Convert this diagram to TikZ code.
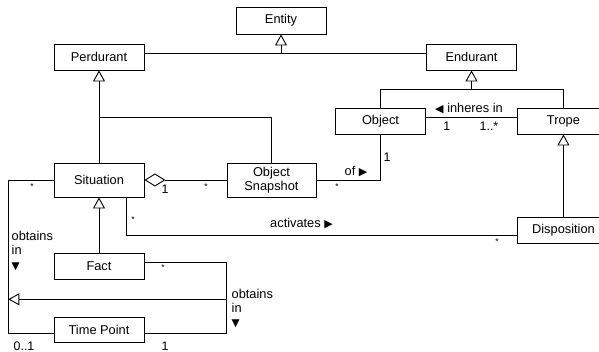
\documentclass[tikz,border=0pt]{standalone}
\usepackage{fontspec}
\setmainfont{Liberation Sans}
\newfontfamily\symfont{DejaVu Sans}
\usetikzlibrary{arrows.meta,calc}
\tikzset{
  cls/.style={draw, line width=0.9pt, fill=white, minimum width=90pt,
    minimum height=26pt, inner sep=1pt, align=center,
    font=\fontsize{12.8}{13.5}\selectfont},
  lnk/.style={line width=0.9pt},
  isa/.style={lnk, -{Triangle[open,length=11pt,width=12pt]}},
  lbl/.style={inner sep=0pt, font=\fontsize{12.8}{14.5}\selectfont},
  mult/.style={inner sep=0pt, font=\fontsize{12.4}{14}\selectfont},
  star/.style={inner sep=0pt, font=\fontsize{8.5}{8.5}\selectfont},
}
\newcommand{\rtri}{{\symfont\fontsize{11}{11}\selectfont ▶}}
\newcommand{\ltri}{{\symfont\fontsize{11}{11}\selectfont ◀}}
\newcommand{\dtri}{{\symfont\fontsize{10.5}{10.5}\selectfont ▼}}
\begin{document}
\begin{tikzpicture}[x=1pt,y=-1pt]
\useasboundingbox (0,0) rectangle (599,352);
\clip (0,0) rectangle (599,352);

% classes
\node[cls, minimum height=27pt] (entity) at (281,20.5) {Entity};
\node[cls] (perd) at (99,57) {Perdurant};
\node[cls] (endu) at (471.5,57) {Endurant};
\node[cls] (obj) at (380.5,121) {Object};
\node[cls, minimum width=92pt, anchor=west] (trope) at (517,121) {Trope};
\node[cls, minimum height=34pt] (sit) at (99,180) {Situation};
\node[cls, minimum height=34pt, minimum width=89pt] (snap) at (271.5,180) {Object\\Snapshot};
\node[cls, minimum width=92pt, anchor=west] (disp) at (517,230) {Disposition};
\node[cls] (fact) at (99,266) {Fact};
\node[cls, minimum height=25pt] (tp) at (99,329.5) {Time Point};

% junction points
\coordinate (gtop) at (281,53);
\coordinate (pj) at (99,117);
\coordinate (ej) at (471.5,89.3);
\coordinate (lx) at (8.3,0);
\coordinate (rx) at (226.7,0);
\coordinate (gr) at (226.7,299.3);
\coordinate (gl) at (8.3,299.3);
\coordinate (tpw) at ([yshift=-3.7pt]tp.west);
\coordinate (tpe) at ([yshift=-3.7pt]tp.east);
\coordinate (fe) at ([yshift=3.5pt]fact.east);

% generalisations
\draw[lnk] ([yshift=4pt]perd.east) -- ([yshift=4pt]endu.west);
\draw[isa] (gtop) -- (entity.south);
\draw[isa] (sit.north) -- (perd.south);
\draw[lnk] (snap.north) |- (pj);
\draw[isa] (ej) -- (endu.south);
\draw[lnk] (obj.north) |- (ej) -| (trope.north);
\draw[isa] (disp.north) -- (trope.south);
\draw[isa] (fact.north) -- (sit.south);

% associations
\draw[lnk] ([yshift=3.7pt]obj.east) -- ([yshift=3.7pt]trope.west);
\draw[lnk] (obj.south) |- (snap.east);
\draw[lnk, {Diamond[open,length=21pt,width=13pt]}-] (sit.east) -- (snap.west);
\draw[lnk] ([xshift=27.7pt]sit.south) |- ([yshift=-5pt]disp.west);
\draw[lnk] (sit.west) -| (lx |- tpw) -- (tpw);
\draw[lnk] (fe) -| (rx |- tpe) -- (tpe);
\draw[isa] (gr) -- (gl);

% association labels
\node[lbl] at (469,109) {\ltri\ inheres in};
\node[mult] at (446.7,126) {1};
\node[mult] at (489,126) {1..*};
\node[mult] at (387,157) {1};
\node[lbl] at (356,172) {of \rtri};
\node[star] at (337,187) {*};
\node[mult] at (165,189) {1};
\node[star] at (206,187) {*};
\node[star] at (32,187) {*};
\node[lbl, align=left, anchor=north west, font=\fontsize{12.8}{14.5}\selectfont] at (11.5,231) {obtains\\in\\\dtri};
\node[star] at (133,220) {*};
\node[lbl] at (301.5,224) {activates \rtri};
\node[star] at (497,242) {*};
\node[star] at (163,268) {*};
\node[lbl, align=left, anchor=north west, font=\fontsize{12.8}{13.8}\selectfont] at (231.5,289) {obtains\\in\\\dtri};
\node[mult] at (24,346) {0..1};
\node[mult] at (165,346) {1};
\end{tikzpicture}
\end{document}
